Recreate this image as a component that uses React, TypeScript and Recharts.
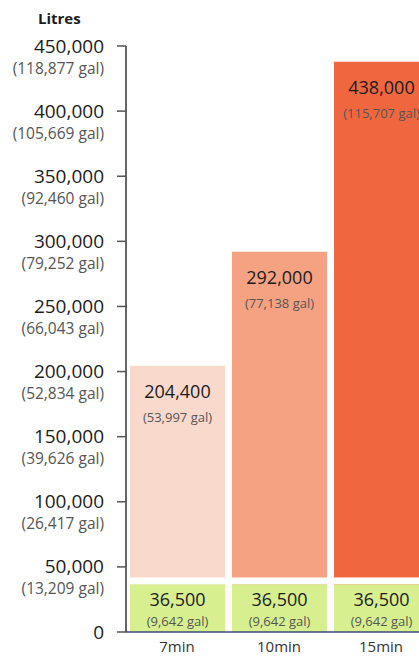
import React from "react";
import { BarChart, Bar, XAxis, YAxis, Cell, LabelList } from "recharts";

const categories = ["7min", "10min", "15min"];
const totalLitres = [204400, 292000, 438000];
const totalGallons = ["(53,997 gal)", "(77,138 gal)", "(115,707 gal)"];
const baseLitres = [36500, 36500, 36500];
const baseGallons = ["(9,642 gal)", "(9,642 gal)", "(9,642 gal)"];
const totalColors = ["#f9d9cb", "#f5a282", "#f0673f"];
const baseColor = "#d7ef8f";

const yTicks = [0, 50000, 100000, 150000, 200000, 250000, 300000, 350000, 400000, 450000];
const yTickGallons = ["", "(13,209 gal)", "(26,417 gal)", "(39,626 gal)", "(52,834 gal)", "(66,043 gal)", "(79,252 gal)", "(92,460 gal)", "(105,669 gal)", "(118,877 gal)"];

const data = categories.map((c, i) => ({
  name: c,
  total: totalLitres[i],
  totalGal: totalGallons[i],
  base: baseLitres[i],
  baseGal: baseGallons[i],
}));

const FONT = "'Open Sans', 'Noto Sans', sans-serif";

const fmt = (v: number) => v.toLocaleString("en-US");

const YTick = (props: any) => {
  const { x, y, payload } = props;
  const idx = yTicks.indexOf(payload.value);
  const gal = yTickGallons[idx] || "";
  return (
    <g>
      <text x={x} y={y} dy={6.5} textAnchor="end" fontSize={19} fill="#1c1c1c" fontFamily={FONT}>
        {fmt(payload.value)}
      </text>
      {gal && (
        <text x={x} y={y + 22} dy={5.5} textAnchor="end" fontSize={15.5} fill="#555" fontFamily={FONT}>
          {gal}
        </text>
      )}
    </g>
  );
};

const XTick = (props: any) => {
  const { x, y, payload } = props;
  return (
    <text x={x} y={y} dy={12} textAnchor="middle" fontSize={15} fill="#333" fontFamily={FONT}>
      {payload.value}
    </text>
  );
};

const BaseShape = (props: any) => {
  const { x, y, width, height } = props;
  return (
    <g>
      <rect x={x - 1} y={y - 7} width={width + 2} height={7} fill="#ffffff" />
      <rect x={x} y={y} width={width} height={height} fill={baseColor} />
    </g>
  );
};

const TotalLabel = (props: any) => {
  const { x, y, width, index } = props;
  const cx = x + width / 2;
  return (
    <g>
      <text x={cx} y={y + 26} dy={6} textAnchor="middle" fontSize={18} fill="#1c1c1c" fontFamily={FONT}>
        {fmt(totalLitres[index])}
      </text>
      <text x={cx} y={y + 51} dy={5} textAnchor="middle" fontSize={13} fill="#555" fontFamily={FONT}>
        {totalGallons[index]}
      </text>
    </g>
  );
};

const BaseLabel = (props: any) => {
  const { x, y, width, index } = props;
  const cx = x + width / 2;
  return (
    <g>
      <text x={cx} y={y + 16} dy={6} textAnchor="middle" fontSize={18} fill="#1c1c1c" fontFamily={FONT}>
        {fmt(baseLitres[index])}
      </text>
      <text x={cx} y={y + 37} dy={5} textAnchor="middle" fontSize={13} fill="#555" fontFamily={FONT}>
        {baseGallons[index]}
      </text>
    </g>
  );
};

export default function App() {
  return (
    <div style={{ position: "absolute", left: 0, top: 0, width: 419, height: 660, overflow: "hidden", background: "#fff" }}>
      <div style={{ position: "absolute", left: 38, top: 8, fontFamily: FONT, fontWeight: 700, fontSize: 15, color: "#1c1c1c" }}>
        Litres
      </div>
      <BarChart
        width={440}
        height={660}
        data={data}
        margin={{ top: 46, right: 8, bottom: 0, left: 0 }}
        barSize={95}
      >
        <XAxis dataKey="name" xAxisId="a" height={28} tick={<XTick />} axisLine={{ stroke: "#3a4a7a", strokeWidth: 1.5 }} tickLine={false} />
        <XAxis dataKey="name" xAxisId="b" hide />
        <YAxis
          width={126}
          domain={[0, 450000]}
          ticks={yTicks}
          interval={0}
          tick={<YTick />}
          tickSize={9}
          tickMargin={13}
          axisLine={{ stroke: "#333", strokeWidth: 1.5 }}
          tickLine={{ stroke: "#555", strokeWidth: 1.5 }}
        />
        <Bar dataKey="total" xAxisId="a" isAnimationActive={false}>
          {data.map((d, i) => (
            <Cell key={d.name} fill={totalColors[i]} />
          ))}
          <LabelList dataKey="total" content={<TotalLabel />} />
        </Bar>
        <Bar dataKey="base" xAxisId="b" isAnimationActive={false} shape={<BaseShape />}>
          <LabelList dataKey="base" content={<BaseLabel />} />
        </Bar>
      </BarChart>
    </div>
  );
}
